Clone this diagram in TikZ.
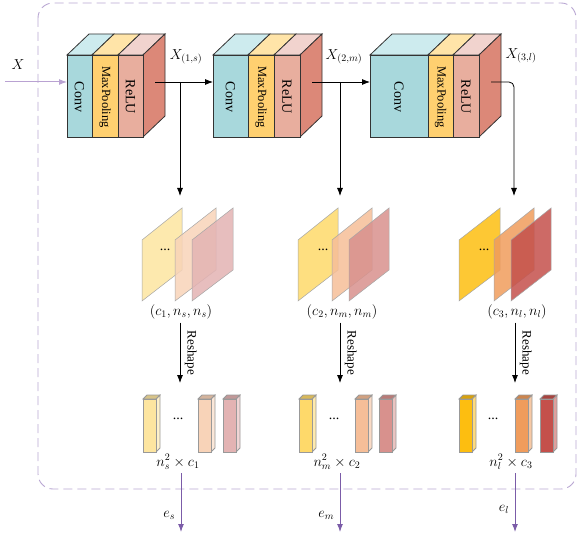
\documentclass[tikz,border=0pt]{standalone}
\usepackage{fontspec}
\setmainfont{Liberation Serif}
\usetikzlibrary{arrows.meta}

\definecolor{convfront}{HTML}{A8D8DC}
\definecolor{convtop}{HTML}{CDEBEE}
\definecolor{poolfront}{HTML}{FFD070}
\definecolor{pooltop}{HTML}{FFE4A8}
\definecolor{relufront}{HTML}{E8AE9E}
\definecolor{relutop}{HTML}{F1D3CE}
\definecolor{reluside}{HTML}{DC8878}
\definecolor{frame}{HTML}{B8A6D2}
\definecolor{inpurple}{HTML}{B9A2D2}
\definecolor{outpurple}{HTML}{7B5CA8}
\definecolor{mapA1}{HTML}{FDE5A0}
\definecolor{mapA2}{HTML}{F8D3B8}
\definecolor{mapA3}{HTML}{E3B3B3}
\definecolor{mapB1}{HTML}{FED96A}
\definecolor{mapB2}{HTML}{F6BE98}
\definecolor{mapB3}{HTML}{D8918D}
\definecolor{mapC1}{HTML}{FDBE10}
\definecolor{mapC2}{HTML}{F09C5C}
\definecolor{mapC3}{HTML}{C4504B}

% conv block: #1 index, #2..#5 edges of the layers
\newcommand{\cnnblock}[5]{
  \filldraw[face, fill=convtop] (#2,55) -- ({#2+22},34) -- ({#3+22},34) -- (#3,55) -- cycle;
  \filldraw[face, fill=pooltop] (#3,55) -- ({#3+22},34) -- ({#4+22},34) -- (#4,55) -- cycle;
  \filldraw[face, fill=relutop] (#4,55) -- ({#4+22},34) -- ({#5+22},34) -- (#5,55) -- cycle;
  \filldraw[face, fill=reluside] (#5,55) -- ({#5+22},34) -- ({#5+22},116) -- (#5,137) -- cycle;
  \filldraw[face, fill=convfront] (#2,55) rectangle (#3,137);
  \filldraw[face, fill=poolfront] (#3,55) rectangle (#4,137);
  \filldraw[face, fill=relufront] (#4,55) rectangle (#5,137);
  \node[rotate=-90] (conv#1) at ({(#2+#3)/2},97) {Conv};
  \node[rotate=-90, font=\fontsize{12.5}{13}\selectfont] (pool#1) at ({(#3+#4)/2},97) {MaxPooling};
  \node[rotate=-90] (relu#1) at ({(#4+#5)/2},97) {ReLU};
}
% feature map: #1 left, #2 right, #3 colour
\newcommand{\fmap}[3]{
  \filldraw[plane, fill=#3] (#1,301) -- (#1,240) -- (#2,208) -- (#2,270) -- cycle;
}
% flattened vector: #1 left, #2 colour
\newcommand{\fbar}[2]{
  \filldraw[bar, fill=#2!55!white] ({#1+13},399) -- ({#1+17},395) -- ({#1+17},448) -- ({#1+13},452) -- cycle;
  \filldraw[bar, fill=#2!85!black] (#1,399) -- ({#1+4},395) -- ({#1+17},395) -- ({#1+13},399) -- cycle;
  \filldraw[bar, fill=#2] (#1,399) rectangle ({#1+13},452);
}

\begin{document}
\begin{tikzpicture}[x=1pt, y=-1pt, >={Latex[length=8pt,width=6pt]},
    font=\fontsize{14}{16}\selectfont,
    face/.style={draw=black!80, line width=0.8pt},
    plane/.style={draw=black!35, line width=0.5pt, fill opacity=0.85},
    bar/.style={draw=black!40, line width=0.8pt},
    link/.style={->, line width=0.8pt},
    inlink/.style={->, line width=1pt, draw=inpurple, fill=inpurple},
    outlink/.style={->, line width=1pt, draw=outpurple, fill=outpurple}]

    \useasboundingbox (0,0) rectangle (578,537);

    % dashed frame
    \draw[frame, line width=0.9pt, dash pattern=on 9pt off 5pt, rounded corners=15pt] (38,3) rectangle (576,489);

    % blocks
    \cnnblock{1}{67}{92}{118}{143}
    \cnnblock{2}{213}{248}{274}{300}
    \cnnblock{3}{370}{428}{453}{479}

    \node (X) at (18,65) {$X$};
    \node (feat1) at (186,57) {$X_{(1,s)}$};
    \node (feat2) at (344,57) {$X_{(2,m)}$};
    \node (feat3) at (521,56) {$X_{(3,l)}$};

    \coordinate (in0) at (5,82);
    \coordinate (in1) at (67,82);
    \coordinate (out1) at (155,82);
    \coordinate (in2) at (213,82);
    \coordinate (br1) at (180,82);
    \coordinate (down1) at (180,196);
    \coordinate (out2) at (312,82);
    \coordinate (in3) at (370,82);
    \coordinate (br2) at (340,82);
    \coordinate (down2) at (340,196);
    \coordinate (out3) at (491,82);
    \coordinate (down3) at (514,196);

    \draw[inlink] (in0) -- (in1);
    \draw[link] (out1) -- (in2);
    \draw[link] (br1) -- (down1);
    \draw[link] (out2) -- (in3);
    \draw[link] (br2) -- (down2);
    \draw[link, rounded corners=5pt] (out3) -| (down3);

    % feature maps
    \fmap{142}{182}{mapA1}
    \fmap{175}{216}{mapA2}
    \fmap{192}{233}{mapA3}
    \fmap{298}{338}{mapB1}
    \fmap{332}{372}{mapB2}
    \fmap{349}{389}{mapB3}
    \fmap{459}{500}{mapC1}
    \fmap{494}{534}{mapC2}
    \fmap{511}{551}{mapC3}
    \node (dotsA) at (165,250) {...};
    \node (dotsB) at (323,250) {...};
    \node (dotsC) at (484,250) {...};

    \node (size1) at (181,312) {$(c_1,n_s,n_s)$};
    \node (size2) at (342,312) {$(c_2,n_m,n_m)$};
    \node (size3) at (517,312) {$(c_3,n_l,n_l)$};

    \coordinate (r1) at (180,383);
    \coordinate (r2) at (340,383);
    \coordinate (r3) at (515,383);
    \path[every node/.style={font=\fontsize{13}{13}\selectfont, rotate=-90}]
    (size1.south -| r1) edge[link] node[above=1pt] {Reshape} (r1)
    (size2.south -| r2) edge[link] node[above=1pt] {Reshape} (r2)
    (size3.south -| r3) edge[link] node[above=1pt] {Reshape} (r3);

    % flattened vectors
    \fbar{143}{mapA1}
    \fbar{198}{mapA2}
    \fbar{223}{mapA3}
    \fbar{299}{mapB1}
    \fbar{355}{mapB2}
    \fbar{379}{mapB3}
    \fbar{459}{mapC1}
    \fbar{515}{mapC2}
    \fbar{540}{mapC3}
    \node (dotsD) at (178,419) {...};
    \node (dotsE) at (334,419) {...};
    \node (dotsF) at (493,419) {...};

    \node (vec1) at (178,462) {$n_s^2\times c_1$};
    \node (vec2) at (337,462) {$n_m^2\times c_2$};
    \node (vec3) at (511,462) {$n_l^2\times c_3$};

    \coordinate (e1) at (181,532);
    \coordinate (e2) at (340,532);
    \coordinate (e3) at (515,532);
    \draw[outlink] (vec1.south -| e1) -- (e1) node[pos=0.72, left=2pt, text=black] {$e_s$};
    \draw[outlink] (vec2.south -| e2) -- (e2) node[pos=0.72, left=2pt, text=black] {$e_m$};
    \draw[outlink] (vec3.south -| e3) -- (e3) node[pos=0.62, left=2pt, text=black] {$e_l$};
\end{tikzpicture}
\end{document}
